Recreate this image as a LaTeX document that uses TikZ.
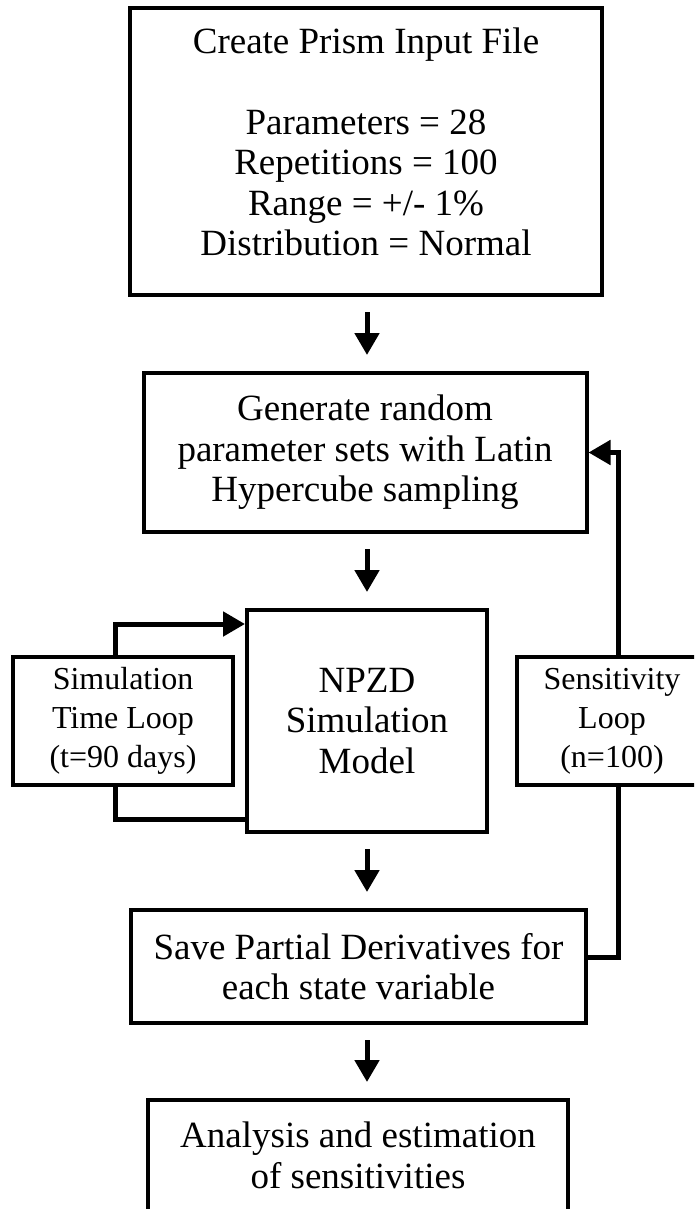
\documentclass[tikz,border=0pt]{standalone}
\usepackage{fontspec}
\setmainfont{Liberation Serif}
\usepackage{tikz}
\usetikzlibrary{calc}
\usetikzlibrary{arrows.meta}
\usetikzlibrary{shapes}

\begin{document}
\begin{tikzpicture}[x=1pt, y=-1pt,
  box/.style={rectangle, draw=black, line width=4pt, align=center, inner sep=0pt},
  bigtext/.style={font=\fontsize{37}{40.5}\selectfont},
  smalltext/.style={font=\fontsize{32}{39}\selectfont},
  flow/.style={-{Triangle[length=22pt,width=24pt]}, line width=5pt},
  gap/.style={shorten <=15pt, shorten >=16pt}]
\clip (0,0) rectangle (694,1209);
\node [box, bigtext, text depth=20pt, minimum width=472pt, minimum height=287pt] (input) at (366,151.5) {Create Prism Input File\\[40.5pt]Parameters = 28\\Repetitions = 100\\Range = +/- 1\%\\Distribution = Normal};
\node [box, bigtext, minimum width=443pt, minimum height=159pt] (params) at (365,452.5) {Generate random\\parameter sets with Latin\\Hypercube sampling};
\node [box, bigtext, minimum width=240pt, minimum height=222pt] (npzd) at (367,721) {NPZD\\Simulation\\Model};
\node [box, smalltext, minimum width=220pt, minimum height=128pt] (timeloop) at (123,721) {Simulation\\Time Loop\\(t=90 days)};
\node [box, smalltext, minimum width=190pt, minimum height=128pt] (sensloop) at (612,721) {Sensitivity\\Loop\\(n=100)};
\node [box, bigtext, minimum width=455pt, minimum height=113pt] (save) at (358.5,966.5) {Save Partial Derivatives for\\each state variable};
\node [box, bigtext, minimum width=420pt, minimum height=111pt] (analysis) at (358,1155.5) {Analysis and estimation\\of sensitivities};

% main flow
\draw [flow, gap] (input.south -| npzd.south) -- (params.north -| npzd.south);
\draw [flow, gap] (params.south -| npzd.south) -- (npzd.north);
\draw [flow, gap] (npzd.south) -- (save.north -| npzd.south);
\draw [flow, gap] (save.south -| npzd.south) -- (analysis.north -| npzd.south);

% time loop
\draw [flow] ([xshift=-8pt]timeloop.north) |- ([yshift=-16pt]npzd.north west);
\draw [line width=5pt] ([xshift=-8pt]timeloop.south) |- ([yshift=15pt]npzd.south west);

% sensitivity loop
\draw [line width=5pt] ([yshift=9.5pt]save.east) -| ([xshift=6pt]sensloop.south);
\draw [flow] ([xshift=6pt]sensloop.north) |- (params.east);
\end{tikzpicture}
\end{document}
